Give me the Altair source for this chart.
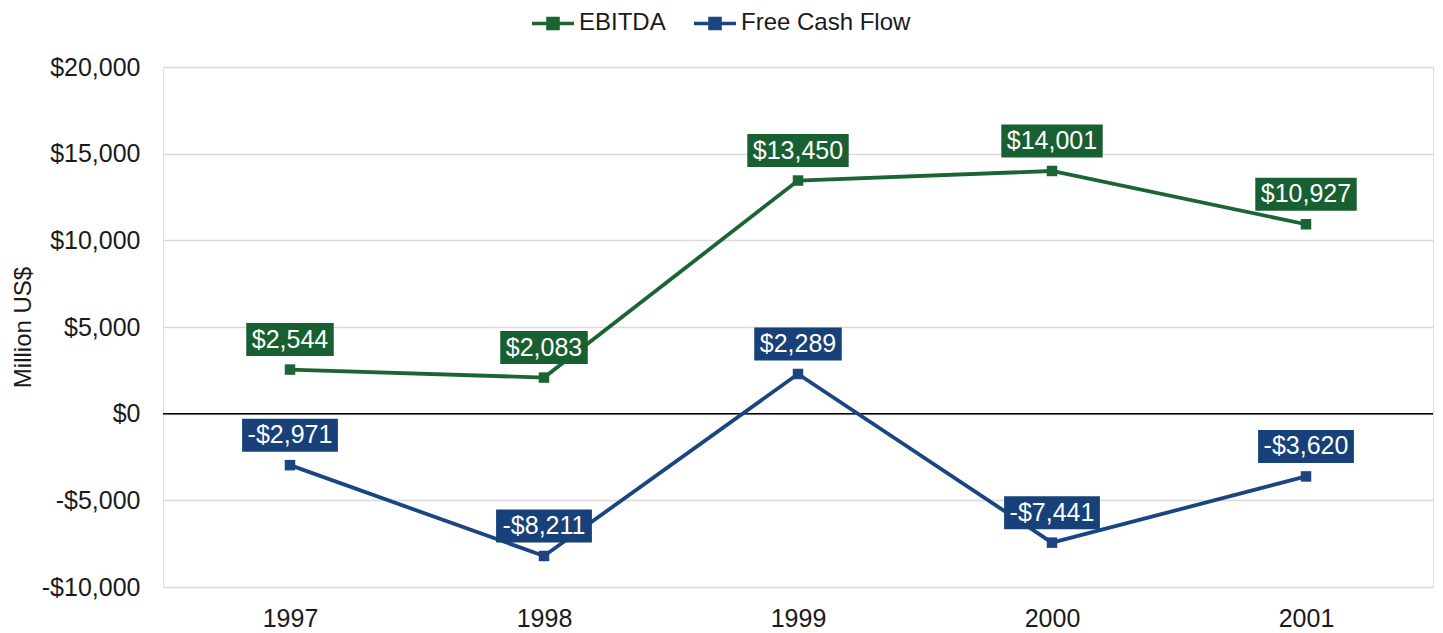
import altair as alt
import pandas as pd

years = ["1997", "1998", "1999", "2000", "2001"]
ebitda = [2544, 2083, 13450, 14001, 10927]
fcf = [-2971, -8211, 2289, -7441, -3620]
series_names = ["EBITDA", "Free Cash Flow"]
y_ticks = [-10000, -5000, 0, 5000, 10000, 15000, 20000]

line_colors = ["#1b6434", "#1b4581"]
box_colors = ["#185f32", "#174178"]

FS = 25
CHAR_W = {"$": 0.556, ",": 0.278, "-": 0.333}
LABEL_DY = -30
BOX_H = 33


def fmt(v):
    return ("-" if v < 0 else "") + "$" + format(abs(v), ",")


def box_path(text):
    tw = sum(CHAR_W.get(c, 0.556) for c in text) * FS
    hw = (tw + 11) / 2.0
    unit = 50.0  # sqrt(size)/2 with size=10000
    top = (LABEL_DY - BOX_H / 2) / unit
    bot = (LABEL_DY + BOX_H / 2) / unit
    l = -hw / unit
    r = hw / unit
    return f"M{l:.3f},{top:.3f}H{r:.3f}V{bot:.3f}H{l:.3f}Z"


rows = []
for name, vals in zip(series_names, [ebitda, fcf]):
    for yr, v in zip(years, vals):
        t = fmt(v)
        rows.append({"year": yr, "value": v, "series": name, "label": t, "box": box_path(t)})
df = pd.DataFrame(rows)

font = "Helvetica, Liberation Sans, Arial"

x_enc = alt.X("year:O", scale=alt.Scale(type="point", padding=0.5),
              axis=alt.Axis(title=None, labelAngle=0, labelFontSize=25, labelColor="#1a1a1a",
                            labelPadding=19, ticks=False, domain=False, grid=False,
                            labelFont=font))
y_enc = alt.Y("value:Q", scale=alt.Scale(domain=[-10000, 20000], nice=False),
              axis=alt.Axis(title="Million US$", values=y_ticks,
                            labelExpr="(datum.value < 0 ? '-' : '') + '$' + format(abs(datum.value), ',')",
                            labelFontSize=25, labelColor="#1a1a1a", labelPadding=23,
                            titleFontSize=24, titleFontWeight="normal", titleColor="#1a1a1a",
                            titlePadding=6, labelFont=font, titleFont=font,
                            ticks=False, domain=False, grid=True, gridColor="#d9d9d9",
                            gridWidth=1.5))

legend_path = "M-1,0H1M-0.24,-0.24H0.24V0.24H-0.24Z"

color_enc = alt.Color("series:N", scale=alt.Scale(domain=series_names, range=line_colors),
                      legend=alt.Legend(title=None, orient="none", direction="horizontal",
                                        legendX=367, legendY=-67,
                                        symbolType=legend_path, symbolSize=1764,
                                        symbolStrokeWidth=3.5, labelFontSize=24,
                                        labelFont=font, labelColor="#1a1a1a",
                                        labelOffset=3, columnPadding=21, labelLimit=400))

base = alt.Chart(df)

lines = base.mark_line(strokeWidth=3.8).encode(x=x_enc, y=y_enc, color=color_enc)

zero = alt.Chart(pd.DataFrame({"z": [0]})).mark_rule(color="#000000", strokeWidth=1.5).encode(
    y=alt.Y("z:Q", scale=alt.Scale(domain=[-10000, 20000], nice=False))
)

markers = base.mark_point(shape="square", filled=True, size=110, opacity=1).encode(
    x="year:O", y="value:Q", color=color_enc,
)

boxes = base.mark_point(filled=True, size=10000, opacity=1, strokeWidth=0).encode(
    x="year:O", y="value:Q",
    shape=alt.Shape("box:N", scale=None),
    fill=alt.Fill("series:N", scale=alt.Scale(domain=series_names, range=box_colors), legend=None),
)

texts = base.mark_text(dy=LABEL_DY, fontSize=FS, color="#ffffff", font=font, baseline="middle").encode(
    x="year:O", y="value:Q", text="label:N"
)

chart = alt.layer(zero, lines, markers, boxes, texts).properties(
    width=1270, height=520,
    autosize=alt.AutoSizeParams(type="none"),
    padding={"left": 155, "top": 59, "right": 2, "bottom": 45},
).configure_view(stroke=None).configure(font=font)

chart.save("out.html", embed_options={"renderer": "svg", "actions": False})
